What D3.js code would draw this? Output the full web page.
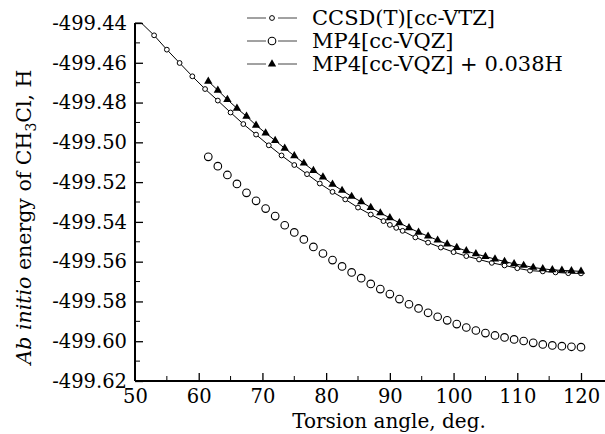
<!DOCTYPE html>
<meta charset="utf-8">

<head>
    <script src="https://d3js.org/d3.v7.min.js"></script>
</head>
<style>
    body {
        margin: 0;
        background: #fff;
    }

    svg text {
        font-family: "DejaVu Serif", "Liberation Serif", serif;
        fill: #000;
    }
</style>

<body>
    <svg id="chart" width="605" height="434"></svg>
    <script>
        'use strict';

        // CCSD(T)[cc-VTZ] - small circles (first two points sit above the frame)
        const ccsdAngle = [49, 51, 53, 55, 57, 59, 61, 63, 65, 67, 69, 71, 73, 75, 77, 79, 81, 83, 85, 87,
            89, 90, 91, 92, 94, 96, 98, 100, 102, 104, 106, 108, 110, 112, 114, 116, 118, 120];
        const ccsdEnergy = [-499.4366, -499.4398, -499.4462, -499.4534, -499.4601, -499.4668, -499.4732, -499.4790,
            -499.4850, -499.4908, -499.4961, -499.5015, -499.5066, -499.5114, -499.5160, -499.5207, -499.5249,
            -499.5287, -499.5328, -499.5363, -499.5396, -499.5415, -499.5430, -499.5445, -499.5478, -499.5504,
            -499.5529, -499.5552, -499.5572, -499.5589, -499.5606, -499.5619, -499.5633, -499.5645, -499.5649,
            -499.5654, -499.5658, -499.5659];

        // MP4[cc-VQZ] and the shifted curve share the same angles
        const mp4Angle = [61.5, 63, 64.5, 66, 67.5, 69, 70.5, 72, 73.5, 75, 76.5, 78, 79.5, 81, 82.5, 84,
            85.5, 87, 88.5, 90, 91.5, 93, 94.5, 96, 97.5, 99, 100.5, 102, 103.5, 105, 106.5, 108, 109.5,
            111, 112.5, 114, 115.5, 117, 118.5, 120];
        const mp4Energy = [-499.5073, -499.5120, -499.5164, -499.5209, -499.5254, -499.5294, -499.5333, -499.5371,
            -499.5417, -499.5453, -499.5488, -499.5526, -499.5559, -499.5592, -499.5624, -499.5654, -499.5683,
            -499.5712, -499.5738, -499.5763, -499.5788, -499.5814, -499.5835, -499.5857, -499.5877, -499.5895,
            -499.5914, -499.5931, -499.5946, -499.5959, -499.5971, -499.5981, -499.5991, -499.5999, -499.6008,
            -499.6016, -499.6021, -499.6025, -499.6028, -499.6030];
        const shiftedEnergy = [-499.4693, -499.4738, -499.4785, -499.4829, -499.4869, -499.4914, -499.4953, -499.4991,
            -499.5030, -499.5068, -499.5105, -499.5142, -499.5175, -499.5211, -499.5242, -499.5272, -499.5299,
            -499.5328, -499.5355, -499.5380, -499.5405, -499.5430, -499.5452, -499.5472, -499.5492, -499.5512,
            -499.5529, -499.5546, -499.5561, -499.5574, -499.5587, -499.5599, -499.5611, -499.5619, -499.5629,
            -499.5636, -499.5641, -499.5644, -499.5646, -499.5649];

        const xTicks = [50, 60, 70, 80, 90, 100, 110, 120];
        const yTicks = [-499.44, -499.46, -499.48, -499.50, -499.52, -499.54, -499.56, -499.58, -499.60, -499.62];
        const legendNames = ["CCSD(T)[cc-VTZ]", "MP4[cc-VQZ]", "MP4[cc-VQZ] + 0.038H"];

        const svg = d3.select("#chart");
        const mLeft = 135, mRight = 581, mTop = 23, mBottom = 381;

        const x = d3.scaleLinear().domain([50, 120]).range([mLeft, mRight]);
        const y = d3.scaleLinear().domain([-499.62, -499.44]).range([mBottom, mTop]);
        // clamped copy so out-of-range points run along the top edge
        const yc = y.copy().clamp(true);

        svg.append("clipPath").attr("id", "plot")
            .append("rect")
            .attr("x", mLeft).attr("y", mTop - 1)
            .attr("width", 605 - mLeft).attr("height", mBottom - mTop + 1);

        // axes: left and bottom only, ticks pointing inward
        const xAxis = svg.append("g")
            .attr("transform", `translate(0,${mBottom})`)
            .call(d3.axisBottom(x).tickValues(xTicks).tickSize(-8).tickPadding(8)
                .tickFormat(d3.format("d")));
        xAxis.select(".domain").attr("d", `M${mLeft},0H605`);
        xAxis.selectAll(".tick").filter((d) => d === 50).select("line").remove();
        xAxis.append("g").selectAll("line")
            .data(d3.range(55, 121, 10))
            .join("line")
            .attr("x1", (d) => x(d)).attr("x2", (d) => x(d))
            .attr("y1", 0).attr("y2", -5)
            .attr("stroke", "#000");

        const yAxis = svg.append("g")
            .attr("transform", `translate(${mLeft},0)`)
            .call(d3.axisLeft(y).tickValues(yTicks).tickSize(-8).tickPadding(8)
                .tickFormat((d) => d.toFixed(2)));
        yAxis.select(".domain").attr("d", `M0,${mTop}V${mBottom}`);
        yAxis.append("g").selectAll("line")
            .data(d3.range(0, 9).map((i) => -499.45 - i * 0.02))
            .join("line")
            .attr("x1", 0).attr("x2", 5)
            .attr("y1", (d) => y(d)).attr("y2", (d) => y(d))
            .attr("stroke", "#000");

        svg.selectAll(".domain").attr("stroke-width", 2);
        svg.selectAll(".tick line").attr("stroke-width", 1.3);
        svg.selectAll(".tick text").attr("font-size", 19.5)
            .style("font-family", "'DejaVu Serif', serif");

        // axis titles
        svg.append("text")
            .attr("x", 389).attr("y", 428)
            .attr("text-anchor", "middle")
            .attr("font-size", 20)
            .text("Torsion angle, deg.");

        const yTitle = svg.append("text")
            .attr("transform", "translate(31,217) rotate(-90)")
            .attr("text-anchor", "middle")
            .attr("font-size", 20.5);
        yTitle.append("tspan").attr("font-style", "italic").text("Ab initio");
        yTitle.append("tspan").text(" energy of CH");
        yTitle.append("tspan").attr("font-size", 14).attr("dy", 5).text("3");
        yTitle.append("tspan").attr("dy", -5).text("Cl, H");

        // lines
        const plot = svg.append("g").attr("clip-path", "url(#plot)");
        const line = d3.line().x((d) => x(d[0])).y((d) => yc(d[1]));

        const ccsd = d3.zip(ccsdAngle, ccsdEnergy);
        const mp4 = d3.zip(mp4Angle, mp4Energy);
        const shifted = d3.zip(mp4Angle, shiftedEnergy);

        plot.append("path").datum(ccsd).attr("d", line)
            .attr("fill", "none").attr("stroke", "#000").attr("stroke-width", 1);
        plot.append("path").datum(shifted).attr("d", line)
            .attr("fill", "none").attr("stroke", "#000").attr("stroke-width", 1);

        // markers, only inside the frame
        plot.selectAll(".ccsd")
            .data(ccsd.filter((d) => d[1] <= -499.44))
            .join("circle")
            .attr("cx", (d) => x(d[0])).attr("cy", (d) => y(d[1]))
            .attr("r", 2.4)
            .attr("fill", "#fff").attr("stroke", "#000").attr("stroke-width", 1);

        plot.selectAll(".mp4")
            .data(mp4)
            .join("circle")
            .attr("cx", (d) => x(d[0])).attr("cy", (d) => y(d[1]))
            .attr("r", 3.8)
            .attr("fill", "#fff").attr("stroke", "#000").attr("stroke-width", 1.1);

        const tri = d3.symbol().type(d3.symbolTriangle).size(30);
        plot.selectAll(".shift")
            .data(shifted)
            .join("path")
            .attr("d", tri)
            .attr("transform", (d) => `translate(${x(d[0])},${y(d[1])})`)
            .attr("fill", "#000");

        // legend: short line, gap, marker, gap, short line
        const legend = svg.append("g").attr("transform", "translate(247,0)");
        const rows = legend.selectAll("g")
            .data(legendNames)
            .join("g")
            .attr("transform", (d, i) => `translate(0,${18 + i * 23})`);
        rows.append("line")
            .attr("x1", 0).attr("x2", 19)
            .attr("stroke", "#444").attr("stroke-width", 1);
        rows.append("line")
            .attr("x1", 31).attr("x2", 50)
            .attr("stroke", "#444").attr("stroke-width", 1);
        rows.append("text")
            .attr("x", 65).attr("dy", "0.35em")
            .attr("font-size", 21)
            .text((d) => d);
        rows.filter((d, i) => i === 0).append("circle")
            .attr("cx", 25).attr("r", 2.4)
            .attr("fill", "#fff").attr("stroke", "#000");
        rows.filter((d, i) => i === 1).append("circle")
            .attr("cx", 25).attr("r", 3.8)
            .attr("fill", "#fff").attr("stroke", "#000").attr("stroke-width", 1.1);
        rows.filter((d, i) => i === 2).append("path")
            .attr("d", tri)
            .attr("transform", "translate(25,0)")
            .attr("fill", "#000");
    </script>
</body>
